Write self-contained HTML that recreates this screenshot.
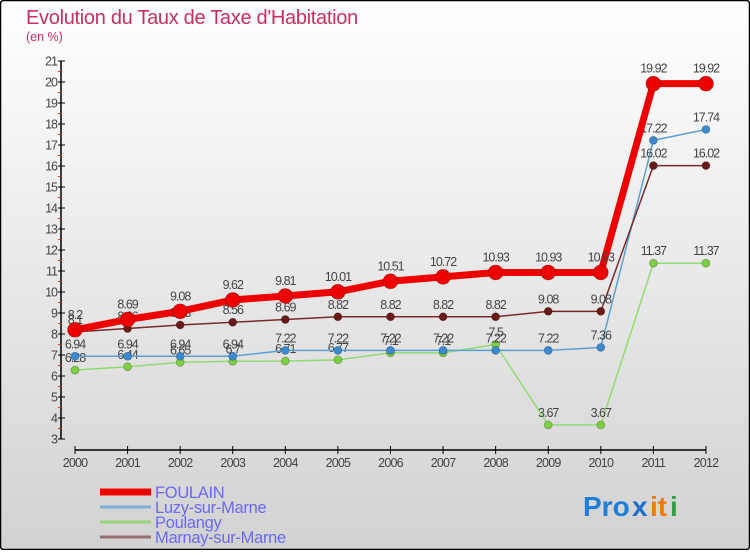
<!DOCTYPE html>
<html><head><meta charset="utf-8"><style>
html,body{margin:0;padding:0;}
body{width:750px;height:550px;overflow:hidden;font-family:"Liberation Sans",sans-serif;}
</style></head><body>
<svg id="chart" width="750" height="550" xmlns="http://www.w3.org/2000/svg">
<defs><linearGradient id="bg" x1="0" y1="0" x2="0" y2="1"><stop offset="0" stop-color="#ffffff"/><stop offset="1" stop-color="#d2d2d2"/></linearGradient></defs>
<rect x="0.5" y="0.5" width="749" height="549" fill="url(#bg)" stroke="#000" stroke-width="1.5" rx="3"/>
<text x="26" y="24" font-size="20" fill="#c8305e" letter-spacing="-0.3">Evolution du Taux de Taxe d'Habitation</text>
<text x="26" y="41" font-size="12.5" fill="#c8305e">(en %)</text>
<g id="axes"></g>
<g id="series"></g>
<g id="legend"></g>
<g font-size="28" font-weight="bold">
<text x="583" y="516" fill="#1f7fd8">Pro</text><text x="632" y="516" fill="#1f6fd0">x</text><text x="650" y="516" fill="#f07a10">it</text><text x="670" y="516" fill="#2ea040">i</text>
</g>
</svg>
<script>
const years=[2000,2001,2002,2003,2004,2005,2006,2007,2008,2009,2010,2011,2012];
const yTicks=[3,4,5,6,7,8,9,10,11,12,13,14,15,16,17,18,19,20,21];
const foulain=[8.2,8.69,9.08,9.62,9.81,10.01,10.51,10.72,10.93,10.93,10.93,19.92,19.92];
const luzy=[6.94,6.94,6.94,6.94,7.22,7.22,7.22,7.22,7.22,7.22,7.36,17.22,17.74];
const poulangy=[6.28,6.44,6.65,6.7,6.71,6.77,7.1,7.1,7.5,3.67,3.67,11.37,11.37];
const marnay=[8.1,8.26,8.43,8.56,8.69,8.82,8.82,8.82,8.82,9.08,9.08,16.02,16.02];
const seriesNames=["FOULAIN","Luzy-sur-Marne","Poulangy","Marnay-sur-Marne"];
const NS="http://www.w3.org/2000/svg";
const xS=i=>75+i*52.58;
const yS=v=>439-(v-3)*21;
function mk(tag,attrs,parent){const e=document.createElementNS(NS,tag);for(const k in attrs)e.setAttribute(k,attrs[k]);parent.appendChild(e);return e;}
const axes=document.getElementById('axes');
let yl=mk('line',{x1:61,y1:yS(21),x2:61,y2:yS(3),stroke:'#000','stroke-width':1.5},axes);


yTicks.forEach(v=>{
  const t=mk('line',{x1:58,y1:yS(v),x2:65,y2:yS(v),stroke:'#000'},axes);
  
  
  if(v<21){const m=mk('line',{x1:58,y1:yS(v+0.5),x2:61,y2:yS(v+0.5),stroke:'#e03030'},axes);
  
  }
  const l=mk('text',{x:57,y:yS(v)+4.5,'font-size':12.5,'text-anchor':'end',fill:'#444','letter-spacing':'-1'},axes);
  l.textContent=v;
  
  
});
let xl=mk('line',{x1:xS(0),y1:450,x2:xS(12),y2:450,stroke:'#000','stroke-width':1.5},axes);


years.forEach((y,i)=>{
  const t=mk('line',{x1:xS(i),y1:446,x2:xS(i),y2:454,stroke:'#000'},axes);
  
  
  const l=mk('text',{x:xS(i),y:467,'font-size':12.5,'text-anchor':'middle',fill:'#444','letter-spacing':'-0.8'},axes);
  l.textContent=y;
  
  
});
const sg=document.getElementById('series');
function draw(data,color,dot,w,r,name,labelDy){
  const g=mk('g',{},sg);
  
  
  const p=mk('polyline',{points:data.map((v,i)=>xS(i)+','+yS(v)).join(' '),fill:'none',stroke:color,'stroke-width':w,'stroke-linejoin':'round'},g);
  
  
  data.forEach((v,i)=>{
    const c=mk('circle',{cx:xS(i),cy:yS(v),r:r,fill:dot,stroke:'rgba(0,0,0,0.3)','stroke-width':0.7},g);
    
    
    const t=mk('text',{x:xS(i),y:yS(v)-labelDy,'font-size':12.5,'text-anchor':'middle',fill:'#444','letter-spacing':'-1'},g);
    t.textContent=v;
    
    
  });
}
draw(poulangy,'#90dc70','#7ed040',1.5,4,'poulangy',8);
draw(luzy,'#5aa0d8','#3a8ad0',1.5,4,'luzy',8);
draw(marnay,'#7a2a2a','#6a1818',1.5,4,'marnay',8);
draw(foulain,'#ee0000','#ee0000',7,7.5,'foulain',11);
const lg=document.getElementById('legend');
const lcol=['#ee0000','#7ab0d8','#98d478','#967070'];
const lw=[7,3,3,3];
seriesNames.forEach((n,i)=>{
  const y=492+i*15;
  const ln=mk('line',{x1:100,y1:y,x2:151,y2:y,stroke:lcol[i],'stroke-width':lw[i]},lg);
  
  
  const t=mk('text',{x:155,y:y+6,'font-size':16.5,fill:'#6a6af0','letter-spacing':'-0.3'},lg);
  t.textContent=n;
  
  
});
</script>
</body></html>
